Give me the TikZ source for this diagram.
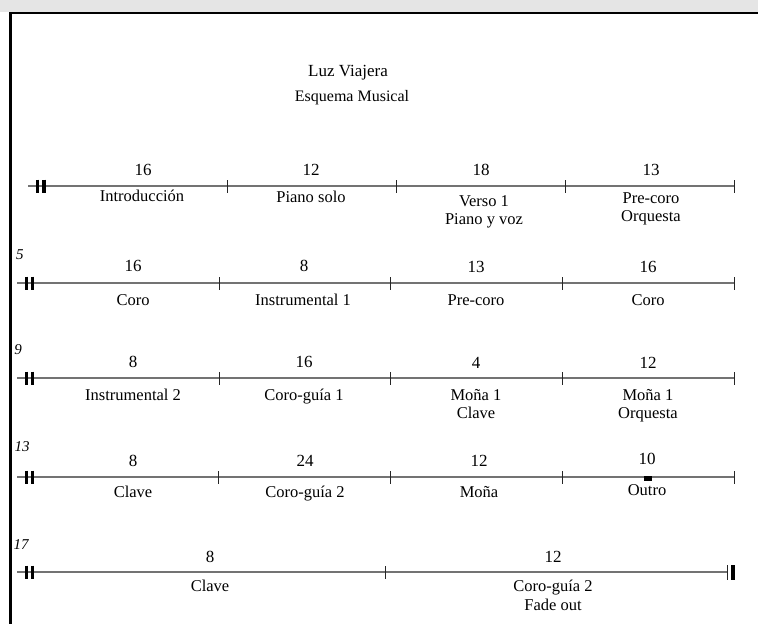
\documentclass[tikz,border=0pt]{standalone}
\usepackage{fontspec}
\setmainfont{Liberation Serif}
\tikzset{
  staff/.style={draw=black!55, line width=1.2pt},
  tick/.style={draw=black!85, line width=0.9pt},
  dbar/.style={draw=black, line width=3.2pt},
  num/.style={font=\fontsize{17}{19}\selectfont},
  lbl/.style={font=\fontsize{16.5}{18.5}\selectfont, align=center, anchor=north, inner sep=0pt},
  measure/.style={font=\fontsize{15}{17}\selectfont\itshape},
}
\begin{document}
\begin{tikzpicture}[x=1pt,y=-1pt]
\useasboundingbox (0,0) rectangle (758,624);
\fill[white] (0,0) rectangle (758,624);
\fill[black!10] (0,0) rectangle (758,12);
\draw[line width=2.5pt] (9,13) -- (758,13);
\draw[line width=2.5pt] (10.5,12) -- (10.5,624);

\node (title) at (348,73) {\fontsize{17}{19}\selectfont Luz Viajera};
\node (sub) at (352,98) {\fontsize{16}{18}\selectfont Esquema Musical};

% row 1
\draw[staff] (28,186) -- (734,186);
\draw[dbar] (37.5,179.5) -- (37.5,192.5);
\draw[dbar] (44,179.5) -- (44,192.5);
\draw[tick] (227,180) -- (227,193);
\draw[tick] (396,180) -- (396,193);
\draw[tick] (565,180) -- (565,193);
\draw[tick] (734,180) -- (734,193);
\node[num] (n11) at (143,170) {16};
\node[num] (n12) at (311,170) {12};
\node[num] (n13) at (481,170) {18};
\node[num] (n14) at (651,170) {13};
\node[lbl] (l11) at (142,190) {Introducción};
\node[lbl] (l12) at (311,191) {Piano solo};
\node[lbl] (l13) at (484,195) {Verso 1\\Piano y voz};
\node[lbl] (l14) at (651,192) {Pre-coro\\Orquesta};

% row 2
\node[measure] (m5) at (20,255) {5};
\draw[staff] (17,283) -- (734,283);
\draw[dbar] (26.5,276.5) -- (26.5,289.5);
\draw[dbar] (32.5,276.5) -- (32.5,289.5);
\draw[tick] (219,277) -- (219,290);
\draw[tick] (390,277) -- (390,290);
\draw[tick] (562,277) -- (562,290);
\draw[tick] (734,277) -- (734,290);
\node[num] (n21) at (133,266) {16};
\node[num] (n22) at (304,266) {8};
\node[num] (n23) at (476,267) {13};
\node[num] (n24) at (648,267) {16};
\node[lbl] (l21) at (133,294) {Coro};
\node[lbl] (l22) at (303,294) {Instrumental 1};
\node[lbl] (l23) at (476,294) {Pre-coro};
\node[lbl] (l24) at (648,294) {Coro};

% row 3
\node[measure] (m9) at (18,350) {9};
\draw[staff] (17,378) -- (734,378);
\draw[dbar] (26.5,371.5) -- (26.5,384.5);
\draw[dbar] (32.5,371.5) -- (32.5,384.5);
\draw[tick] (219,372) -- (219,385);
\draw[tick] (390,372) -- (390,385);
\draw[tick] (562,372) -- (562,385);
\draw[tick] (734,372) -- (734,385);
\node[num] (n31) at (133,362) {8};
\node[num] (n32) at (304,362) {16};
\node[num] (n33) at (476,363) {4};
\node[num] (n34) at (648,363) {12};
\node[lbl] (l31) at (133,389) {Instrumental 2};
\node[lbl] (l32) at (304,389) {Coro-guía 1};
\node[lbl] (l33) at (476,389) {Moña 1\\Clave};
\node[lbl] (l34) at (648,389) {Moña 1\\Orquesta};

% row 4
\node[measure] (m13) at (22,447) {13};
\draw[staff] (17,477) -- (734,477);
\draw[dbar] (26.5,470.5) -- (26.5,483.5);
\draw[dbar] (32.5,470.5) -- (32.5,483.5);
\draw[tick] (218,471) -- (218,484);
\draw[tick] (390,471) -- (390,484);
\draw[tick] (562,471) -- (562,484);
\draw[tick] (734,471) -- (734,484);
\node[num] (n41) at (133,461) {8};
\node[num] (n42) at (305,461) {24};
\node[num] (n43) at (479,461) {12};
\node[num] (n44) at (647,459) {10};
\fill (644,476) rectangle (652,480.5);
\node[lbl] (l41) at (133,486) {Clave};
\node[lbl] (l42) at (305,486) {Coro-guía 2};
\node[lbl] (l43) at (479,486) {Moña};
\node[lbl] (l44) at (647,484) {Outro};

% row 5
\node[measure] (m17) at (21,545) {17};
\draw[staff] (17,572) -- (727,572);
\draw[dbar] (26.5,565.5) -- (26.5,578.5);
\draw[dbar] (32.5,565.5) -- (32.5,578.5);
\draw[tick] (385,566) -- (385,579);
\draw[tick, line width=1.2pt] (727.5,565) -- (727.5,580);
\draw[dbar, line width=3.6pt] (733,565) -- (733,580);
\node[num] (n51) at (210,557) {8};
\node[num] (n52) at (553,557) {12};
\node[lbl] (l51) at (210,580) {Clave};
\node[lbl] (l52) at (553,580) {Coro-guía 2\\Fade out};
\end{tikzpicture}
\end{document}
